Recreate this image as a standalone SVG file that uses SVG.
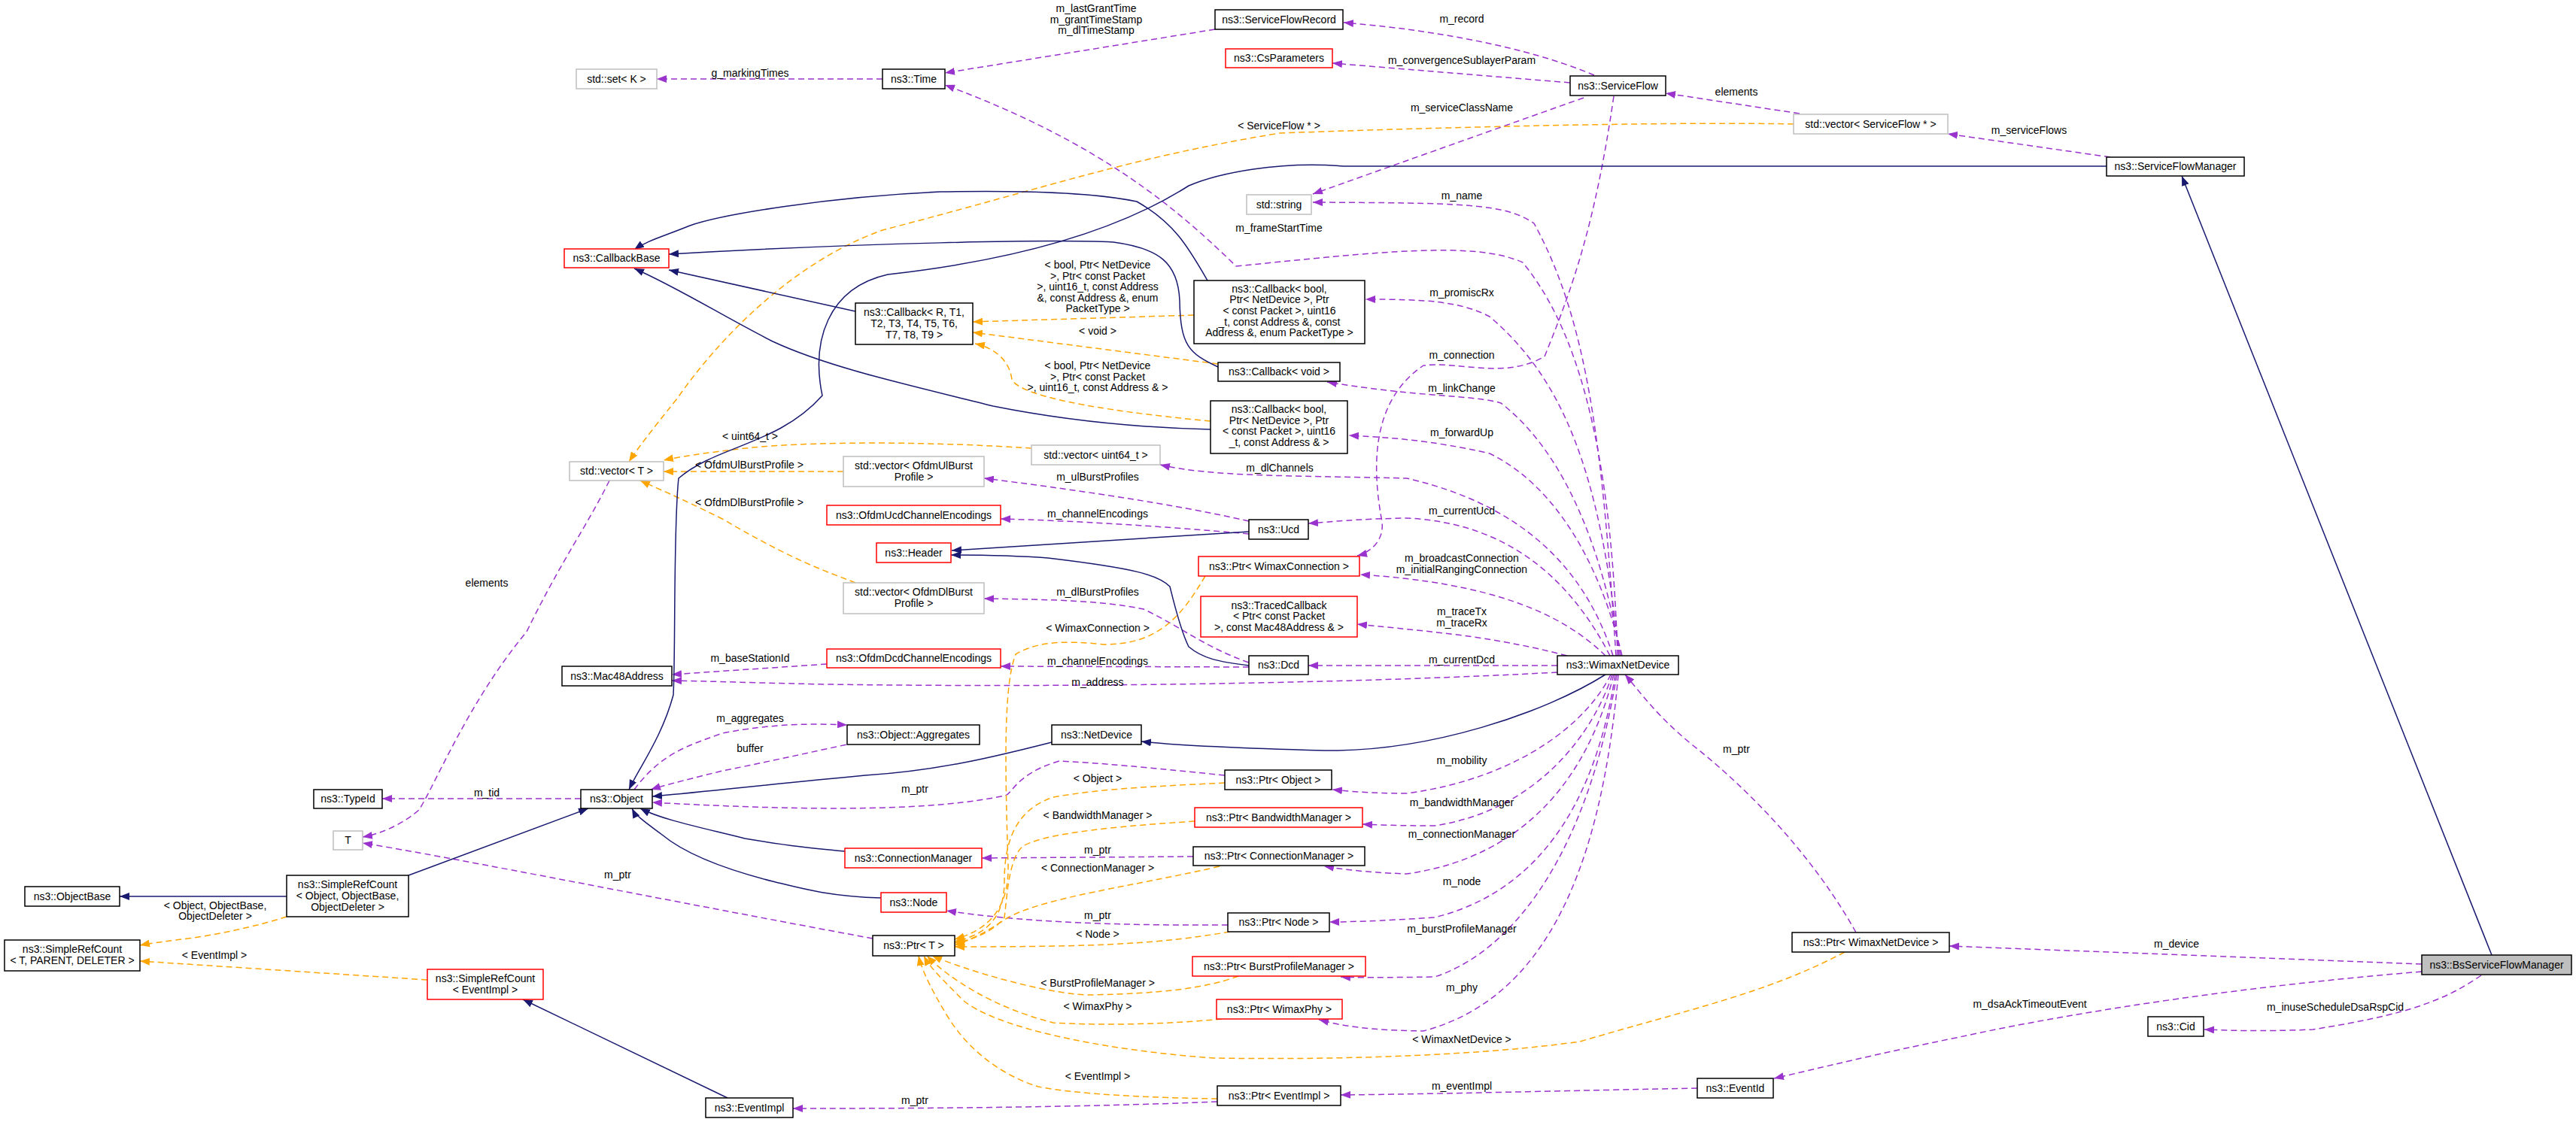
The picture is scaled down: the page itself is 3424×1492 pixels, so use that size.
<svg xmlns="http://www.w3.org/2000/svg" width="3424" height="1492" viewBox="0 0 3424 1492">
<style>
text{font-family:"Liberation Sans",Arial,sans-serif;font-size:14px;fill:#000}
.nt{text-anchor:middle}
.lb{text-anchor:middle}
.b{fill:#fff;stroke:#000;stroke-width:1.5}
.r{fill:#fff;stroke:#ff0000;stroke-width:1.5}
.g{fill:#fff;stroke:#bfbfbf;stroke-width:1.5}
.s{fill:#bfbfbf;stroke:#000;stroke-width:1.5}
.u{fill:none;stroke:#9a32cd;stroke-width:1.5;stroke-dasharray:8,5;marker-end:url(#mp)}
.t{fill:none;stroke:#ffa500;stroke-width:1.5;stroke-dasharray:8,5;marker-end:url(#mo)}
.i{fill:none;stroke:#191970;stroke-width:1.5;marker-end:url(#mi)}
</style>
<defs>
<marker id="mp" markerUnits="userSpaceOnUse" markerWidth="14" markerHeight="10" refX="13" refY="5" orient="auto"><path d="M0,0 L13,5 L0,10 z" fill="#9a32cd"/></marker>
<marker id="mo" markerUnits="userSpaceOnUse" markerWidth="14" markerHeight="10" refX="13" refY="5" orient="auto"><path d="M0,0 L13,5 L0,10 z" fill="#ffa500"/></marker>
<marker id="mi" markerUnits="userSpaceOnUse" markerWidth="14" markerHeight="10" refX="13" refY="5" orient="auto"><path d="M0,0 L13,5 L0,10 z" fill="#191970"/></marker>
</defs>
<rect width="3424" height="1492" fill="#fff"/>
<g id="edges">
<path class="u" d="M1173,105 L873,105"/>
<path class="u" d="M1615,39 L1256,97"/>
<path class="u" d="M2119,100 C2053,72 1943,43 1786,30"/>
<path class="u" d="M2087,110 L1771,84"/>
<path class="u" d="M2105,130 L1745,258"/>
<path class="u" d="M2392,151 L2214,124"/>
<path class="u" d="M2805,209 L2589,178"/>
<path class="u" d="M2148,872 C2130,600 2112,430 2039,297 C2000,270 1943,270 1745,269"/>
<path class="u" d="M2150,872 C2141,574 2090,430 2024,349 C1960,320 1833,335 1643,354 C1569,282 1467,191 1256,113"/>
<path class="u" d="M2152,872 C2127,622 2075,502 1980,421 C1940,400 1892,398 1815,398"/>
<path class="u" d="M2145,128 C2120,300 2090,383 2053,474 C2000,505 1940,480 1892,486 C1833,526 1819,598 1837,694 C1840,720 1820,735 1804,739"/>
<path class="u" d="M2154,872 C2127,717 2075,598 1995,536 C1960,525 1892,529 1764,508"/>
<path class="u" d="M2156,872 C2127,750 2068,646 1980,603 C1900,585 1850,582 1793,579"/>
<path class="u" d="M2144,872 C2105,750 2017,670 1870,636 C1700,632 1613,634 1542,618"/>
<path class="u" d="M2140,872 C2075,746 1980,694 1870,689 C1800,690 1770,694 1739,696"/>
<path class="u" d="M2134,872 C2075,814 1980,775 1808,764"/>
<path class="u" d="M2083,872 C1980,845 1900,840 1804,830"/>
<path class="u" d="M2070,885 L1739,885"/>
<path class="u" d="M2070,894 C1833,907 1459,915 1100,910 C1000,908 950,906 893,905"/>
<path class="u" d="M2141,897 C2112,957 2024,1034 1870,1055 C1820,1055 1790,1052 1771,1050"/>
<path class="u" d="M2143,897 C2119,972 2046,1077 1907,1098 C1860,1098 1830,1097 1811,1096"/>
<path class="u" d="M2145,897 C2112,1029 2031,1139 1870,1162 C1810,1160 1780,1155 1760,1152"/>
<path class="u" d="M2147,897 C2119,1077 2039,1187 1907,1220 C1830,1225 1790,1226 1767,1226"/>
<path class="u" d="M2149,897 C2112,1125 2017,1263 1907,1299 C1840,1300 1800,1300 1782,1299"/>
<path class="u" d="M2151,897 C2127,1172 2046,1330 1892,1371 C1800,1370 1770,1360 1753,1356"/>
<path class="u" d="M2467,1240 C2400,1120 2300,1030 2250,991 C2200,950 2180,920 2160,897"/>
<path class="u" d="M3219,1282 L2591,1258"/>
<path class="u" d="M3219,1292 C3000,1310 2774,1342 2600,1380 C2500,1400 2420,1420 2358,1434"/>
<path class="u" d="M3298,1297 C3250,1330 3201,1349 3074,1369 C3000,1372 2960,1370 2930,1369"/>
<path class="u" d="M2256,1447 C2100,1450 1900,1455 1782,1456"/>
<path class="u" d="M1618,1465 C1400,1474 1150,1474 1054,1474"/>
<path class="u" d="M1160,1248 C900,1200 600,1140 482,1121"/>
<path class="u" d="M1628,1031 C1520,1020 1467,1015 1408,1012 C1349,1029 1345,1058 1335,1058 C1247,1077 1100,1080 867,1067"/>
<path class="u" d="M1586,1139 L1305,1141"/>
<path class="u" d="M1632,1230 C1467,1231 1350,1225 1258,1211"/>
<path class="u" d="M1660,693 C1560,670 1420,650 1308,636"/>
<path class="u" d="M1660,710 C1550,700 1420,692 1330,690"/>
<path class="u" d="M1660,881 C1600,860 1569,833 1520,810 C1467,799 1400,797 1308,796"/>
<path class="u" d="M1660,887 L1330,886"/>
<path class="u" d="M1099,883 L893,897"/>
<path class="u" d="M843,1050 C880,1000 917,991 960,975 C1027,962 1080,962 1126,964"/>
<path class="u" d="M1150,985 C1100,995 1027,1012 960,1025 C900,1040 880,1045 865,1050"/>
<path class="u" d="M772,1062 L508,1062"/>
<path class="u" d="M810,639 C780,700 748,742 700,840 C623,933 580,1040 557,1077 C530,1100 500,1110 482,1113"/>
<path class="t" d="M2384,165 C2250,162 1980,167 1701,177 C1500,210 1393,249 1173,306 C1050,350 953,454 900,530 C860,580 845,600 836,614"/>
<path class="t" d="M1587,419 L1293,428"/>
<path class="t" d="M1619,484 L1293,442"/>
<path class="t" d="M1609,560 C1450,545 1357,526 1345,505 C1342,478 1320,462 1296,457"/>
<path class="t" d="M1371,596 C1250,588 1100,586 1000,595 C930,603 900,608 882,612"/>
<path class="t" d="M1121,627 L882,627"/>
<path class="t" d="M1137,775 C1100,760 1063,750 960,690 C900,660 870,648 851,639"/>
<path class="t" d="M1602,766 C1570,820 1540,857 1467,857 C1420,852 1379,852 1350,870 C1335,909 1335,1000 1340,1150 C1342,1220 1300,1240 1269,1249"/>
<path class="t" d="M1628,1041 C1550,1045 1467,1048 1400,1060 C1349,1077 1335,1120 1335,1172 C1335,1230 1300,1245 1269,1252"/>
<path class="t" d="M1588,1092 C1500,1098 1393,1106 1360,1125 C1340,1140 1338,1200 1335,1220 C1320,1240 1290,1250 1269,1254"/>
<path class="t" d="M1621,1152 C1500,1180 1393,1192 1340,1220 C1310,1240 1290,1250 1269,1257"/>
<path class="t" d="M1635,1239 C1540,1255 1467,1259 1269,1259"/>
<path class="t" d="M1646,1298 C1600,1315 1540,1321 1450,1323 C1393,1323 1283,1290 1239,1271"/>
<path class="t" d="M1624,1355 C1550,1362 1467,1364 1400,1360 C1320,1340 1260,1300 1232,1271"/>
<path class="t" d="M2452,1266 C2350,1320 2250,1341 2100,1385 C1980,1402 1800,1410 1613,1407 C1450,1395 1320,1364 1280,1330 C1250,1300 1235,1285 1228,1271"/>
<path class="t" d="M1618,1461 C1530,1460 1430,1455 1380,1445 C1335,1431 1290,1400 1261,1354 C1240,1320 1225,1290 1221,1271"/>
<path class="t" d="M381,1219 C340,1232 293,1242 250,1248 C210,1253 196,1255 186,1257"/>
<path class="t" d="M568,1303 L186,1278"/>
<path class="i" d="M1137,414 L889,359"/>
<path class="i" d="M1605,373 C1580,330 1562,297 1511,268 C1450,255 1357,253 1250,255 C1100,262 960,285 917,300 C880,315 860,320 843,332"/>
<path class="i" d="M1619,488 C1580,470 1569,459 1568,400 C1566,349 1540,330 1480,322 C1393,318 1150,323 889,338"/>
<path class="i" d="M1609,571 C1525,569 1420,560 1320,540 C1200,510 1100,488 1027,454 C960,420 902,383 843,357"/>
<path class="i" d="M2800,221 L1786,221 C1700,214 1620,230 1580,247 C1450,330 1269,355 1180,365 C1100,383 1078,454 1093,526 C1034,592 953,592 902,636 C895,700 898,862 895,924 C880,980 850,1020 836,1050"/>
<path class="i" d="M1660,707 L1265,732"/>
<path class="i" d="M1660,885 C1620,880 1599,876 1580,860 C1569,838 1560,800 1555,780 C1540,765 1511,756 1393,742 C1340,738 1300,738 1264,738"/>
<path class="i" d="M1398,987 C1335,1003 1250,1025 1150,1031 C1000,1045 920,1055 867,1059"/>
<path class="i" d="M1123,1132 C1080,1128 1050,1125 990,1115 C930,1100 880,1090 851,1075"/>
<path class="i" d="M1171,1194 C1100,1192 1060,1180 1027,1172 C960,1155 909,1134 880,1110 C860,1095 845,1085 840,1075"/>
<path class="i" d="M543,1164 L782,1075"/>
<path class="i" d="M381,1192 L159,1192"/>
<path class="i" d="M967,1460 L695,1329"/>
<path class="i" d="M2134,897 C2053,948 1900,1000 1760,998 C1650,995 1570,992 1517,986"/>
<path class="i" d="M3312,1270 L2900,234"/>
</g>
<g id="labels">
<text class="lb" x="997" y="102">g_markingTimes</text>
<text class="lb" x="1457" y="16">m_lastGrantTime</text>
<text class="lb" x="1457" y="31">m_grantTimeStamp</text>
<text class="lb" x="1457" y="45">m_dlTimeStamp</text>
<text class="lb" x="1943" y="30">m_record</text>
<text class="lb" x="1943" y="85">m_convergenceSublayerParam</text>
<text class="lb" x="1943" y="148">m_serviceClassName</text>
<text class="lb" x="1700" y="172">&lt; ServiceFlow * &gt;</text>
<text class="lb" x="2308" y="127">elements</text>
<text class="lb" x="2697" y="178">m_serviceFlows</text>
<text class="lb" x="1943" y="265">m_name</text>
<text class="lb" x="1700" y="308">m_frameStartTime</text>
<text class="lb" x="1459" y="357">&lt; bool, Ptr&lt; NetDevice</text>
<text class="lb" x="1459" y="372">&gt;, Ptr&lt; const Packet</text>
<text class="lb" x="1459" y="386">&gt;, uint16_t, const Address</text>
<text class="lb" x="1459" y="401">&amp;, const Address &amp;, enum</text>
<text class="lb" x="1459" y="415">PacketType &gt;</text>
<text class="lb" x="1943" y="394">m_promiscRx</text>
<text class="lb" x="1459" y="445">&lt; void &gt;</text>
<text class="lb" x="1943" y="477">m_connection</text>
<text class="lb" x="1459" y="491">&lt; bool, Ptr&lt; NetDevice</text>
<text class="lb" x="1459" y="506">&gt;, Ptr&lt; const Packet</text>
<text class="lb" x="1459" y="520">&gt;, uint16_t, const Address &amp; &gt;</text>
<text class="lb" x="1943" y="521">m_linkChange</text>
<text class="lb" x="1943" y="580">m_forwardUp</text>
<text class="lb" x="997" y="585">&lt; uint64_t &gt;</text>
<text class="lb" x="996" y="623">&lt; OfdmUlBurstProfile &gt;</text>
<text class="lb" x="996" y="673">&lt; OfdmDlBurstProfile &gt;</text>
<text class="lb" x="1701" y="627">m_dlChannels</text>
<text class="lb" x="1459" y="639">m_ulBurstProfiles</text>
<text class="lb" x="1459" y="688">m_channelEncodings</text>
<text class="lb" x="1943" y="684">m_currentUcd</text>
<text class="lb" x="1943" y="747">m_broadcastConnection</text>
<text class="lb" x="1943" y="762">m_initialRangingConnection</text>
<text class="lb" x="1459" y="792">m_dlBurstProfiles</text>
<text class="lb" x="1943" y="818">m_traceTx</text>
<text class="lb" x="1943" y="833">m_traceRx</text>
<text class="lb" x="1459" y="840">&lt; WimaxConnection &gt;</text>
<text class="lb" x="1459" y="884">m_channelEncodings</text>
<text class="lb" x="1943" y="882">m_currentDcd</text>
<text class="lb" x="1459" y="912">m_address</text>
<text class="lb" x="647" y="780">elements</text>
<text class="lb" x="997" y="880">m_baseStationId</text>
<text class="lb" x="997" y="960">m_aggregates</text>
<text class="lb" x="997" y="1000">buffer</text>
<text class="lb" x="2308" y="1001">m_ptr</text>
<text class="lb" x="1943" y="1016">m_mobility</text>
<text class="lb" x="1459" y="1040">&lt; Object &gt;</text>
<text class="lb" x="1216" y="1054">m_ptr</text>
<text class="lb" x="647" y="1059">m_tid</text>
<text class="lb" x="1943" y="1072">m_bandwidthManager</text>
<text class="lb" x="1459" y="1089">&lt; BandwidthManager &gt;</text>
<text class="lb" x="1943" y="1114">m_connectionManager</text>
<text class="lb" x="1459" y="1135">m_ptr</text>
<text class="lb" x="1459" y="1159">&lt; ConnectionManager &gt;</text>
<text class="lb" x="821" y="1168">m_ptr</text>
<text class="lb" x="1943" y="1177">m_node</text>
<text class="lb" x="286" y="1209">&lt; Object, ObjectBase,</text>
<text class="lb" x="286" y="1223">ObjectDeleter &gt;</text>
<text class="lb" x="1459" y="1222">m_ptr</text>
<text class="lb" x="1943" y="1240">m_burstProfileManager</text>
<text class="lb" x="1459" y="1247">&lt; Node &gt;</text>
<text class="lb" x="2893" y="1260">m_device</text>
<text class="lb" x="285" y="1275">&lt; EventImpl &gt;</text>
<text class="lb" x="1459" y="1312">&lt; BurstProfileManager &gt;</text>
<text class="lb" x="1943" y="1318">m_phy</text>
<text class="lb" x="2698" y="1340">m_dsaAckTimeoutEvent</text>
<text class="lb" x="3104" y="1344">m_inuseScheduleDsaRspCid</text>
<text class="lb" x="1459" y="1343">&lt; WimaxPhy &gt;</text>
<text class="lb" x="1943" y="1387">&lt; WimaxNetDevice &gt;</text>
<text class="lb" x="1459" y="1436">&lt; EventImpl &gt;</text>
<text class="lb" x="1943" y="1449">m_eventImpl</text>
<text class="lb" x="1216" y="1468">m_ptr</text>
</g>
<g id="n_set"><rect class="g" x="766" y="92" width="107" height="26"/><text class="nt" x="819.5" y="110">std::set&lt; K &gt;</text></g>
<g id="n_time"><rect class="b" x="1173" y="92" width="83" height="26"/><text class="nt" x="1214.5" y="110">ns3::Time</text></g>
<g id="n_sfr"><rect class="b" x="1615" y="13" width="170" height="26"/><text class="nt" x="1700" y="31">ns3::ServiceFlowRecord</text></g>
<g id="n_csp"><rect class="r" x="1629" y="65" width="142" height="25"/><text class="nt" x="1700" y="82">ns3::CsParameters</text></g>
<g id="n_sf"><rect class="b" x="2087" y="101" width="127" height="26"/><text class="nt" x="2150.5" y="119">ns3::ServiceFlow</text></g>
<g id="n_vecsf"><rect class="g" x="2384" y="152" width="205" height="26"/><text class="nt" x="2486.5" y="170">std::vector&lt; ServiceFlow * &gt;</text></g>
<g id="n_sfm"><rect class="b" x="2800" y="209" width="183" height="25"/><text class="nt" x="2891.5" y="226">ns3::ServiceFlowManager</text></g>
<g id="n_string"><rect class="g" x="1657" y="259" width="86" height="26"/><text class="nt" x="1700" y="277">std::string</text></g>
<g id="n_cbbase"><rect class="r" x="750" y="331" width="139" height="25"/><text class="nt" x="819.5" y="348">ns3::CallbackBase</text></g>
<g id="n_cbr"><rect class="b" x="1137" y="403" width="156" height="55"/><text class="nt" x="1215" y="420">ns3::Callback&lt; R, T1,</text><text class="nt" x="1215" y="435">T2, T3, T4, T5, T6,</text><text class="nt" x="1215" y="450">T7, T8, T9 &gt;</text></g>
<g id="n_cb5"><rect class="b" x="1587" y="373" width="227" height="84"/><text class="nt" x="1700.5" y="389">ns3::Callback&lt; bool,</text><text class="nt" x="1700.5" y="403">Ptr&lt; NetDevice &gt;, Ptr</text><text class="nt" x="1700.5" y="418">&lt; const Packet &gt;, uint16</text><text class="nt" x="1700.5" y="433">_t, const Address &amp;, const</text><text class="nt" x="1700.5" y="447">Address &amp;, enum PacketType &gt;</text></g>
<g id="n_cbvoid"><rect class="b" x="1619" y="482" width="162" height="25"/><text class="nt" x="1700" y="499">ns3::Callback&lt; void &gt;</text></g>
<g id="n_cb4"><rect class="b" x="1609" y="533" width="182" height="70"/><text class="nt" x="1700" y="549">ns3::Callback&lt; bool,</text><text class="nt" x="1700" y="564">Ptr&lt; NetDevice &gt;, Ptr</text><text class="nt" x="1700" y="578">&lt; const Packet &gt;, uint16</text><text class="nt" x="1700" y="593">_t, const Address &amp; &gt;</text></g>
<g id="n_vecu64"><rect class="g" x="1371" y="592" width="171" height="26"/><text class="nt" x="1456.5" y="610">std::vector&lt; uint64_t &gt;</text></g>
<g id="n_vect"><rect class="g" x="757" y="614" width="125" height="25"/><text class="nt" x="819.5" y="631">std::vector&lt; T &gt;</text></g>
<g id="n_vecul"><rect class="g" x="1121" y="607" width="187" height="40"/><text class="nt" x="1214.5" y="624">std::vector&lt; OfdmUlBurst</text><text class="nt" x="1214.5" y="639">Profile &gt;</text></g>
<g id="n_ucdenc"><rect class="r" x="1099" y="672" width="231" height="26"/><text class="nt" x="1214.5" y="690">ns3::OfdmUcdChannelEncodings</text></g>
<g id="n_ucd"><rect class="b" x="1660" y="691" width="79" height="26"/><text class="nt" x="1699.5" y="709">ns3::Ucd</text></g>
<g id="n_header"><rect class="r" x="1165" y="722" width="99" height="26"/><text class="nt" x="1214.5" y="740">ns3::Header</text></g>
<g id="n_ptrwc"><rect class="r" x="1593" y="740" width="214" height="26"/><text class="nt" x="1700" y="758">ns3::Ptr&lt; WimaxConnection &gt;</text></g>
<g id="n_vecdl"><rect class="g" x="1121" y="775" width="187" height="41"/><text class="nt" x="1214.5" y="792">std::vector&lt; OfdmDlBurst</text><text class="nt" x="1214.5" y="807">Profile &gt;</text></g>
<g id="n_traced"><rect class="r" x="1596" y="793" width="208" height="54"/><text class="nt" x="1700" y="810">ns3::TracedCallback</text><text class="nt" x="1700" y="824">&lt; Ptr&lt; const Packet</text><text class="nt" x="1700" y="839"> &gt;, const Mac48Address &amp; &gt;</text></g>
<g id="n_dcdenc"><rect class="r" x="1099" y="863" width="231" height="25"/><text class="nt" x="1214.5" y="880">ns3::OfdmDcdChannelEncodings</text></g>
<g id="n_dcd"><rect class="b" x="1660" y="872" width="79" height="25"/><text class="nt" x="1699.5" y="889">ns3::Dcd</text></g>
<g id="n_wnd"><rect class="b" x="2070" y="872" width="161" height="25"/><text class="nt" x="2150.5" y="889">ns3::WimaxNetDevice</text></g>
<g id="n_mac48"><rect class="b" x="747" y="886" width="146" height="26"/><text class="nt" x="820" y="904">ns3::Mac48Address</text></g>
<g id="n_agg"><rect class="b" x="1126" y="964" width="176" height="26"/><text class="nt" x="1214" y="982">ns3::Object::Aggregates</text></g>
<g id="n_netdev"><rect class="b" x="1398" y="964" width="119" height="26"/><text class="nt" x="1457.5" y="982">ns3::NetDevice</text></g>
<g id="n_ptrobj"><rect class="b" x="1628" y="1024" width="142" height="26"/><text class="nt" x="1699" y="1042">ns3::Ptr&lt; Object &gt;</text></g>
<g id="n_ptrbm"><rect class="r" x="1588" y="1074" width="223" height="26"/><text class="nt" x="1699.5" y="1092">ns3::Ptr&lt; BandwidthManager &gt;</text></g>
<g id="n_object"><rect class="b" x="772" y="1050" width="95" height="25"/><text class="nt" x="819.5" y="1067">ns3::Object</text></g>
<g id="n_typeid"><rect class="b" x="417" y="1050" width="91" height="25"/><text class="nt" x="462.5" y="1067">ns3::TypeId</text></g>
<g id="n_t"><rect class="g" x="443" y="1105" width="39" height="25"/><text class="nt" x="462.5" y="1122">T</text></g>
<g id="n_connmgr"><rect class="r" x="1123" y="1128" width="182" height="26"/><text class="nt" x="1214" y="1146">ns3::ConnectionManager</text></g>
<g id="n_ptrcm"><rect class="b" x="1586" y="1126" width="228" height="25"/><text class="nt" x="1700" y="1143">ns3::Ptr&lt; ConnectionManager &gt;</text></g>
<g id="n_objbase"><rect class="b" x="33" y="1179" width="126" height="26"/><text class="nt" x="96" y="1197">ns3::ObjectBase</text></g>
<g id="n_srcobj"><rect class="b" x="381" y="1164" width="162" height="55"/><text class="nt" x="462" y="1181">ns3::SimpleRefCount</text><text class="nt" x="462" y="1196">&lt; Object, ObjectBase,</text><text class="nt" x="462" y="1211">ObjectDeleter &gt;</text></g>
<g id="n_node"><rect class="r" x="1171" y="1187" width="87" height="26"/><text class="nt" x="1214.5" y="1205">ns3::Node</text></g>
<g id="n_ptrnode"><rect class="b" x="1632" y="1214" width="135" height="25"/><text class="nt" x="1699.5" y="1231">ns3::Ptr&lt; Node &gt;</text></g>
<g id="n_ptrt"><rect class="b" x="1160" y="1244" width="109" height="27"/><text class="nt" x="1214.5" y="1262">ns3::Ptr&lt; T &gt;</text></g>
<g id="n_ptrwnd"><rect class="b" x="2382" y="1240" width="209" height="26"/><text class="nt" x="2486.5" y="1258">ns3::Ptr&lt; WimaxNetDevice &gt;</text></g>
<g id="n_srct"><rect class="b" x="6" y="1250" width="180" height="41"/><text class="nt" x="96" y="1267">ns3::SimpleRefCount</text><text class="nt" x="96" y="1282">&lt; T, PARENT, DELETER &gt;</text></g>
<g id="n_bssfm"><rect class="s" x="3219" y="1270" width="199" height="26"/><text class="nt" x="3318.5" y="1288">ns3::BsServiceFlowManager</text></g>
<g id="n_ptrbpm"><rect class="r" x="1585" y="1272" width="230" height="26"/><text class="nt" x="1700" y="1290">ns3::Ptr&lt; BurstProfileManager &gt;</text></g>
<g id="n_srce"><rect class="r" x="568" y="1289" width="154" height="40"/><text class="nt" x="645" y="1306">ns3::SimpleRefCount</text><text class="nt" x="645" y="1321">&lt; EventImpl &gt;</text></g>
<g id="n_ptrphy"><rect class="r" x="1617" y="1329" width="167" height="26"/><text class="nt" x="1700.5" y="1347">ns3::Ptr&lt; WimaxPhy &gt;</text></g>
<g id="n_cid"><rect class="b" x="2855" y="1352" width="74" height="26"/><text class="nt" x="2892" y="1370">ns3::Cid</text></g>
<g id="n_eventid"><rect class="b" x="2256" y="1434" width="101" height="26"/><text class="nt" x="2306.5" y="1452">ns3::EventId</text></g>
<g id="n_ptrei"><rect class="b" x="1618" y="1444" width="164" height="26"/><text class="nt" x="1700" y="1462">ns3::Ptr&lt; EventImpl &gt;</text></g>
<g id="n_eventimpl"><rect class="b" x="938" y="1460" width="116" height="26"/><text class="nt" x="996" y="1478">ns3::EventImpl</text></g>
</svg>
